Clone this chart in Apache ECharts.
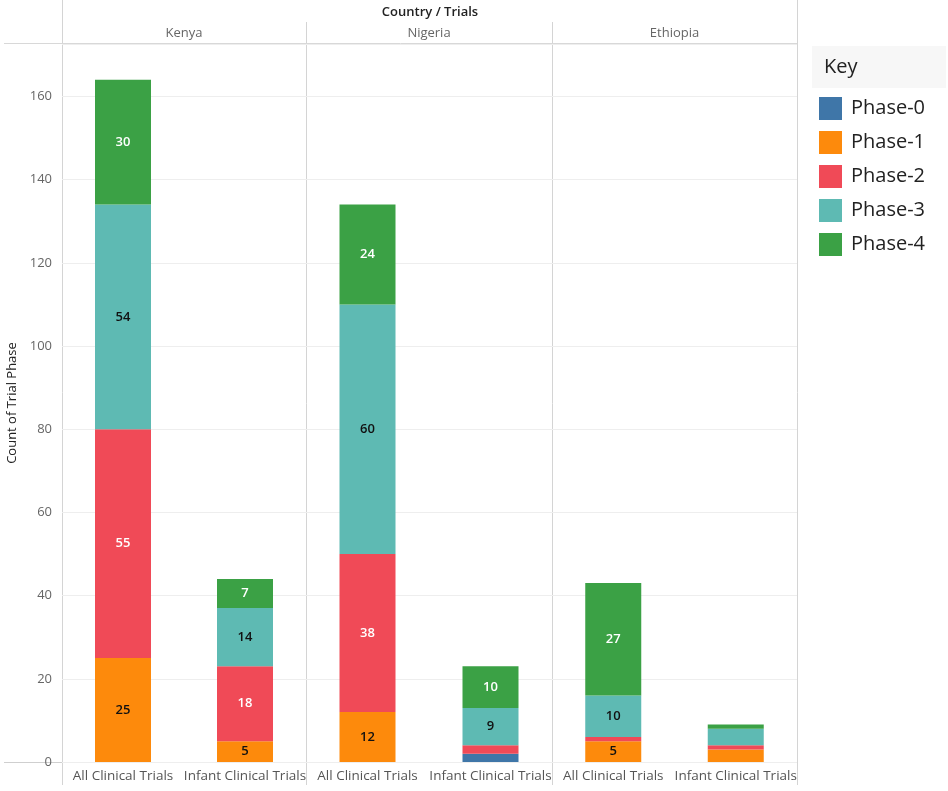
<!DOCTYPE html>
<html>
<head>
<meta charset="utf-8">
<script src="https://cdn.jsdelivr.net/npm/echarts@6/dist/echarts.min.js"></script>
<style>
  html, body { margin: 0; padding: 0; background: #fff; }
  #chart { width: 948px; height: 791px; }
</style>
</head>
<body>
<div id="chart"></div>
<script>
// one entry per country panel
const countries = ["Kenya", "Nigeria", "Ethiopia"];
const trials = ["All Clinical Trials", "Infant Clinical Trials"];
const phases = ["Phase-0", "Phase-1", "Phase-2", "Phase-3", "Phase-4"];

// values per bar: Kenya All, Kenya Infant, Nigeria All, Nigeria Infant, Ethiopia All, Ethiopia Infant
const phase0 = [0, 0, 0, 2, 0, 0];
const phase1 = [25, 5, 12, 0, 5, 3];
const phase2 = [55, 18, 38, 2, 1, 1];
const phase3 = [54, 14, 60, 9, 10, 4];
const phase4 = [30, 7, 24, 10, 27, 1];

const yTicks = [0, 20, 40, 60, 80, 100, 120, 140, 160];

const phaseValues = [phase0, phase1, phase2, phase3, phase4];
const colors = ["#3f76a8", "#fd8a0c", "#f04a57", "#5ebab3", "#3ba145"];
const labelColors = ["#fff", "#111", "#fff", "#111", "#fff"];

const panelLeft = [62, 306, 552];
const panelWidth = [244, 246, 245];
const plotTop = 44;
const plotBottom = 29;
const yMax = 172.6;

const chart = echarts.init(document.getElementById("chart"), null, {
  renderer: "canvas",
});

const grids = countries.map((c, i) => ({
  left: panelLeft[i],
  width: panelWidth[i],
  top: plotTop,
  bottom: plotBottom,
  containLabel: false,
}));

const xAxes = countries.map((c, i) => ({
  type: "category",
  gridIndex: i,
  data: trials,
  axisLine: { show: false },
  axisTick: { show: false },
  axisLabel: {
    color: "#555",
    fontSize: 13.5,
    fontFamily: "Open Sans",
    margin: 7,
    interval: 0,
  },
}));

const yAxes = countries.map((c, i) => ({
  type: "value",
  gridIndex: i,
  min: 0,
  max: yMax,
  interval: 20,
  name: i === 0 ? "Count of Trial Phase" : "",
  nameLocation: "middle",
  nameGap: 43,
  nameTextStyle: {
    color: "#222",
    fontSize: 13,
    fontFamily: "Open Sans",
    fontWeight: 500,
  },
  axisLine: { show: false },
  axisTick: { show: false },
  axisLabel: {
    show: i === 0,
    showMaxLabel: false,
    color: "#666",
    fontSize: 13,
    fontFamily: "Open Sans",
    margin: 10,
    formatter: (v) => (yTicks.includes(v) ? String(v) : ""),
  },
  splitLine: {
    show: true,
    lineStyle: { color: "#eeeeee", width: 1 },
  },
}));

const series = [];
countries.forEach((c, ci) => {
  phases.forEach((p, pi) => {
    series.push({
      name: p,
      type: "bar",
      stack: "s" + ci,
      xAxisIndex: ci,
      yAxisIndex: ci,
      barWidth: 56,
      itemStyle: { color: colors[pi] },
      label: {
        show: true,
        position: "inside",
        color: labelColors[pi],
        fontSize: 13,
        fontFamily: "Open Sans",
        fontWeight: 600,
        formatter: (d) => (d.value >= 5 ? String(d.value) : ""),
      },
      data: phaseValues[pi].slice(ci * 2, ci * 2 + 2),
    });
  });
});

const lineStyle = { stroke: "#d4d4d4", lineWidth: 1 };
const graphics = [
  // frame lines
  { type: "line", shape: { x1: 62.5, y1: 0, x2: 62.5, y2: 785 }, style: lineStyle, silent: true },
  { type: "line", shape: { x1: 797.5, y1: 0, x2: 797.5, y2: 785 }, style: lineStyle, silent: true },
  { type: "line", shape: { x1: 306.5, y1: 22, x2: 306.5, y2: 785 }, style: lineStyle, silent: true },
  { type: "line", shape: { x1: 552.5, y1: 22, x2: 552.5, y2: 785 }, style: lineStyle, silent: true },
  { type: "line", shape: { x1: 4, y1: 43.5, x2: 797, y2: 43.5 }, style: { stroke: "#d8d8d8", lineWidth: 1 }, silent: true },
  { type: "line", shape: { x1: 4, y1: 762.5, x2: 797, y2: 762.5 }, style: { stroke: "#cfcfcf", lineWidth: 1 }, silent: true },
  // header texts
  {
    type: "text", x: 430, y: 12,
    style: { text: "Country / Trials", fill: "#222", font: "600 13px 'Open Sans'", align: "center", verticalAlign: "middle" },
  },
  // legend title
  { type: "rect", shape: { x: 812, y: 46, width: 134, height: 42 }, style: { fill: "#f7f7f7" }, silent: true },
  {
    type: "text", x: 824, y: 67,
    style: { text: "Key", fill: "#222", font: "20px 'Open Sans'", align: "left", verticalAlign: "middle" },
  },
];
countries.forEach((c, i) => {
  graphics.push({
    type: "text",
    x: panelLeft[i] + panelWidth[i] / 2,
    y: 33,
    style: { text: c, fill: "#666", font: "13px 'Open Sans'", align: "center", verticalAlign: "middle" },
  });
});

const option = {
  backgroundColor: "#fff",
  animation: false,
  grid: grids,
  xAxis: xAxes,
  yAxis: yAxes,
  legend: {
    data: phases,
    orient: "vertical",
    left: 814,
    top: 92,
    itemWidth: 23,
    itemHeight: 23,
    itemGap: 11,
    icon: "rect",
    textStyle: { fontSize: 20, color: "#222", fontFamily: "Open Sans", padding: [0, 0, 0, 4] },
  },
  graphic: graphics,
  series: series,
};

chart.setOption(option);
</script>
</body>
</html>
